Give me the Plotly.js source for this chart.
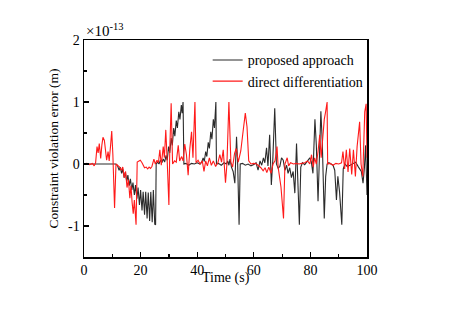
<!DOCTYPE html>
<html>
<head>
<meta charset="utf-8">
<script src="https://cdn.plot.ly/plotly-3.0.1.min.js"></script>
<style>html,body{margin:0;padding:0;background:#fff;}#chart{width:453px;height:309px;}</style>
</head>
<body>
<div id="chart"></div>
<script>
// Time (s) and constraint violation error (×1e-13 m)
const tProposed = [0,2,4,6,8,10,11.2,11.8,12.4,12.8,13.3,13.7,14.2,14.6,15.1,15.5,16.0,16.4,16.9,17.3,17.8,18.2,18.7,19.1,19.6,20.0,20.5,20.9,21.4,21.8,22.3,22.7,23.2,23.6,24.1,24.5,25.0,25.3,25.5,26.0,26.5,27.0,27.5,28.0,28.5,29.0,29.4,29.9,30.3,30.8,31.2,31.7,32.1,32.6,33.0,33.5,33.9,34.4,34.7,35.0,35.3,36,37,38,39,40,41,41.6,42.1,42.5,43.0,43.4,43.9,44.3,44.8,45.2,45.7,46.1,46.6,46.8,47.5,48.5,49.5,50.3,50.8,51.2,51.6,52.1,52.7,53.3,53.9,54.3,54.8,55.2,56,57,58,59,60,60.8,61.5,62.2,62.8,63.4,63.9,64.5,65.0,65.6,66.2,66.7,67.4,68.0,68.6,69.2,69.8,70.4,71.0,71.6,72.1,72.7,73.3,73.9,74.5,75.1,75.5,76.1,76.6,77.2,78,78.6,79.2,79.8,80.3,80.9,81.6,82.1,82.7,83.1,83.7,84.2,84.9,85.4,85.9,86.5,87.3,88.0,88.6,89.2,89.7,90.3,91.1,91.6,92.2,93,94,95,96,97,98,98.6,99.1,99.5,100];
const eProposed = [0,0,0.01,0,0,0.01,0,-0.02,-0.1,-0.05,-0.15,-0.08,-0.22,-0.13,-0.28,-0.18,-0.35,-0.24,-0.42,-0.3,-0.5,-0.34,-0.56,-0.38,-0.66,-0.42,-0.75,-0.45,-0.82,-0.45,-0.88,-0.46,-0.92,-0.45,-0.94,-0.42,-0.97,-0.98,0.0,0.03,0.0,0.06,0.02,0.08,0.03,0.14,0.06,0.28,0.18,0.42,0.3,0.58,0.45,0.7,0.58,0.84,0.72,0.95,0.82,1.0,0.0,0.01,-0.02,0.01,0.0,0.02,0.0,0.03,0.1,0.04,0.2,0.12,0.35,0.25,0.52,0.4,0.72,0.58,1.0,0.0,0.01,-0.02,0.02,0.0,0.05,-0.02,0.08,-0.05,-0.12,-0.31,0.44,0.0,-0.98,0.0,0.01,-0.02,0.0,-0.03,-0.01,0.02,-0.1,0.05,-0.02,0.1,0.02,0.26,-0.03,0.47,-0.34,0.05,0.9,0.0,-0.07,-0.04,0.1,0.06,-0.1,-0.02,-0.15,-0.06,-0.22,-0.12,-0.47,0.33,-0.15,-0.98,-0.05,0.02,-0.01,0.03,0.06,0.1,0.04,-0.15,0.72,0.3,-0.6,0.05,0.85,0.35,-0.88,-0.2,0.0,0.02,0.0,-0.02,-0.1,-0.58,-0.2,-0.45,-0.98,-0.08,0.0,-0.04,-0.02,0.0,0.03,-0.05,-0.12,-0.31,-0.05,0.3,-0.5];

const tDirect = [0,1,2,3,3.6,4.1,4.6,5.0,5.4,5.9,6.3,6.7,7.2,7.6,8.0,8.5,8.9,9.4,9.8,10.2,10.8,11.3,12.0,12.6,13.2,13.7,14.2,14.7,15.2,15.7,16.2,16.6,17.0,17.4,17.8,18.4,18.8,19.4,19.9,20.5,21.0,21.4,22.0,22.5,23.0,23.5,24.0,24.7,25.2,25.8,26.3,26.8,27.3,28.0,28.4,28.9,29.4,30.0,30.3,30.8,31.3,32.0,32.6,33.3,33.8,34.5,35.0,35.6,36.2,36.8,37.4,38.0,38.5,39.2,39.6,40.3,41.0,41.8,42.4,43.0,43.6,44.3,45.0,45.7,46.5,47.3,48.0,48.6,49.2,50.0,50.5,51.2,51.9,52.5,53.2,53.8,54.5,55.4,56.2,57.0,57.6,58.2,59,60,61,61.8,62.5,63.3,64.0,64.6,65.3,66.1,66.8,67.5,68.2,68.6,69.0,69.6,70.5,71.0,71.8,72.3,73.0,74,75,76,77,78,79,79.8,80.4,81.0,81.5,82.1,82.7,83.3,83.8,84.5,84.9,85.4,85.9,86.1,87,88,89,90,91,91.5,92.1,92.7,93.3,93.9,94.6,95.2,95.9,96.5,97.4,97.9,98.5,99.2,99.7,100];
const eDirect = [0,0.01,-0.01,0.01,-0.03,0.02,0.28,0.18,0.33,0.09,0.3,0.43,0.38,0.2,0.06,0.2,0.05,0.3,0.53,0.15,-0.71,0.0,-0.02,-0.05,-0.1,-0.05,-0.22,-0.12,-0.38,-0.25,-0.55,-0.35,-0.62,-0.8,-0.58,-0.98,0.03,0.04,0.06,0.02,-0.02,-0.06,-0.05,-0.08,-0.05,-0.07,-0.04,0.08,0.0,0.06,0.02,0.23,-0.02,0.28,0.1,0.55,0.05,-0.66,0.2,0.98,0.0,0.05,0.03,0.3,0.05,0.12,0.05,0.32,0.15,-0.18,0.25,0.52,0.1,1.0,0.02,0.06,0.0,0.05,-0.12,0.05,-0.03,0.1,-0.02,0.05,-0.04,0.02,0.15,0.03,0.23,-0.3,0.0,1.0,0.03,-0.05,0.17,0.25,0.03,0.21,0.52,0.82,0.6,0.05,0.0,0.01,0.0,-0.03,-0.06,-0.11,-0.06,-0.14,-0.05,-0.15,0.0,0.05,0.28,-0.05,-0.2,-0.37,-0.88,0.0,0.1,-0.03,0.02,0.0,0.01,0.0,0.01,0.02,0.05,0.0,0.15,-0.05,0.1,0.0,0.2,0.47,0.1,0.58,0.72,0.85,1.0,0.0,0.01,-0.02,0.01,0.0,0.02,0.2,-0.08,0.23,-0.13,0.25,-0.17,0.23,-0.2,0.28,0.68,0.0,-0.2,0.84,0.97,0.1];

const seriesNames = ['proposed approach', 'direct differentiation'];
const xTickVals = [0, 20, 40, 60, 80, 100];
const yTickVals = [-1, 0, 1, 2];
const yTickText = ['-1', '0', '1', '2'];

const serif = 'Liberation Serif, Times New Roman, serif';

const traces = [
  {x: tProposed, y: eProposed, name: seriesNames[0], type: 'scatter', mode: 'lines',
   line: {color: '#2b2b2b', width: 1.1}},
  {x: tDirect, y: eDirect, name: seriesNames[1], type: 'scatter', mode: 'lines',
   line: {color: '#ff1a1a', width: 1.1}}
];

const axisCommon = {
  showgrid: false, zeroline: false, showline: true, linecolor: '#000', linewidth: 1.5,
  mirror: true, ticks: 'inside', ticklen: 5, tickwidth: 1.2, tickcolor: '#000',
  tickfont: {family: serif, size: 14, color: '#000'}
};

const layout = {
  width: 453, height: 309,
  margin: {l: 84, r: 86, t: 40, b: 52},
  paper_bgcolor: '#fff', plot_bgcolor: '#fff',
  showlegend: true,
  legend: {x: 0.437, y: 0.98, xanchor: 'left', yanchor: 'top', bgcolor: 'rgba(0,0,0,0)',
           font: {family: serif, size: 14, color: '#000'}},
  xaxis: Object.assign({}, axisCommon, {
    range: [0, 100], tickmode: 'array', tickvals: xTickVals,
    minor: {tickmode: 'array', tickvals: [10, 30, 50, 70, 90], ticks: 'inside', ticklen: 3, tickcolor: '#000'}
  }),
  yaxis: Object.assign({}, axisCommon, {
    range: [-1.5, 2], tickmode: 'array', tickvals: yTickVals, ticktext: yTickText,
    minor: {tickmode: 'array', tickvals: [-1.5, -0.5, 0.5, 1.5], ticks: 'inside', ticklen: 3, tickcolor: '#000'},
    title: {text: 'Constraint violation error (m)', font: {family: serif, size: 13.5, color: '#000'}, standoff: 6}
  }),
  annotations: [
    {xref: 'paper', yref: 'paper', x: 0, y: 1, xanchor: 'left', yanchor: 'bottom',
     xshift: 0, yshift: -1, showarrow: false,
     text: '×10<sup>-13</sup>', font: {family: serif, size: 15, color: '#000'}},
    {xref: 'paper', yref: 'paper', x: 0.502, y: -0.097, xanchor: 'center', yanchor: 'middle',
     showarrow: false, text: 'Time (s)', font: {family: serif, size: 14, color: '#000'}}
  ]
};

Plotly.newPlot('chart', traces, layout, {displayModeBar: false, staticPlot: true});
</script>
</body>
</html>
